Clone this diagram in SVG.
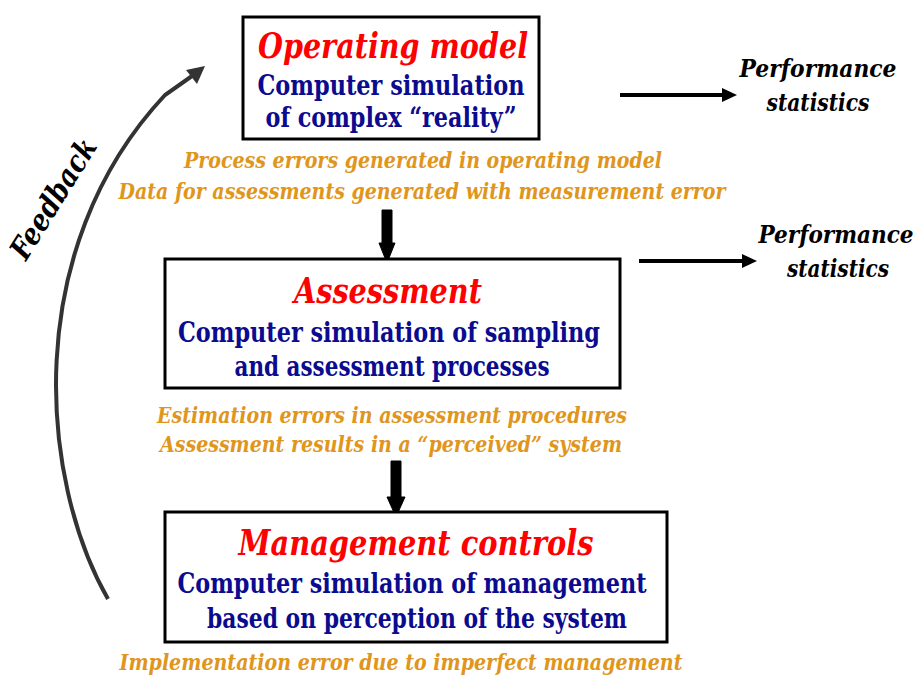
<svg xmlns="http://www.w3.org/2000/svg" width="921" height="678" viewBox="0 0 921 678">
<style>
text{font-family:'DejaVu Serif Condensed','DejaVu Serif','Liberation Serif',serif;font-weight:bold;text-anchor:middle}
.box{fill:#fff;stroke:#000;stroke-width:3}
.title{font-style:italic;font-size:36px;fill:#ff0000}
.body{font-size:27px;fill:#0b0b8f}
.note{font-style:italic;font-size:23px;fill:#e0961c}
.perf{font-style:italic;font-size:25px;fill:#000}
.fb{font-style:italic;font-size:30px;fill:#000}
.harrow{stroke:#000;stroke-width:4;fill:none}
.blk{fill:#000;stroke:#000;stroke-width:1}
</style>
<g id="connectors">
<path class="harrow" d="M620,95 L724,95"/>
<path d="M722,88 L737,95 L722,102 Z" fill="#000"/>
<path class="harrow" d="M639,261 L744,261"/>
<path d="M742,254 L757,261 L742,268 Z" fill="#000"/>
<polygon class="blk" points="382,210 392,210 392,243 395,243 387,263 379,243 382,243"/>
<polygon class="blk" points="391,461 401,461 401,497 405,497 396,517 387,497 391,497"/>
<path d="M108,599 C40,480 20,250 165,95 L192,76" fill="none" stroke="#333" stroke-width="4"/>
<path d="M186,70 L205,66 L197,84 Z" fill="#333"/>
<text class="fb" transform="translate(62,204) rotate(-58)" textLength="136" lengthAdjust="spacingAndGlyphs">Feedback</text>
</g>
<g id="operating-model">
<rect class="box" x="243" y="17" width="296" height="122"/>
<text class="title" x="393" y="58" textLength="270" lengthAdjust="spacingAndGlyphs">Operating model</text>
<text class="body" x="391" y="95" textLength="267" lengthAdjust="spacingAndGlyphs">Computer simulation</text>
<text class="body" x="391" y="127" textLength="251" lengthAdjust="spacingAndGlyphs">of complex “reality”</text>
<text class="note" x="423" y="168" textLength="478" lengthAdjust="spacingAndGlyphs">Process errors generated in operating model</text>
<text class="note" x="422" y="199" textLength="607" lengthAdjust="spacingAndGlyphs">Data for assessments generated with measurement error</text>
</g>
<g id="assessment">
<rect class="box" x="165" y="259" width="455" height="129"/>
<text class="title" x="388" y="303" textLength="188" lengthAdjust="spacingAndGlyphs">Assessment</text>
<text class="body" x="389" y="342" textLength="422" lengthAdjust="spacingAndGlyphs">Computer simulation of sampling</text>
<text class="body" x="392" y="376" textLength="315" lengthAdjust="spacingAndGlyphs">and assessment processes</text>
<text class="note" x="392" y="423" textLength="470" lengthAdjust="spacingAndGlyphs">Estimation errors in assessment procedures</text>
<text class="note" x="391" y="452" textLength="462" lengthAdjust="spacingAndGlyphs">Assessment results in a “perceived” system</text>
</g>
<g id="management-controls">
<rect class="box" x="165" y="512" width="502" height="130"/>
<text class="title" x="416" y="555" textLength="355" lengthAdjust="spacingAndGlyphs">Management controls</text>
<text class="body" x="412" y="593" textLength="469" lengthAdjust="spacingAndGlyphs">Computer simulation of management</text>
<text class="body" x="417" y="628" textLength="420" lengthAdjust="spacingAndGlyphs">based on perception of the system</text>
<text class="note" x="401" y="670" textLength="563" lengthAdjust="spacingAndGlyphs">Implementation error due to imperfect management</text>
</g>
<g id="performance-1">
<text class="perf" x="818" y="77" textLength="157" lengthAdjust="spacingAndGlyphs">Performance</text>
<text class="perf" x="818" y="111" textLength="103" lengthAdjust="spacingAndGlyphs">statistics</text>
</g>
<g id="performance-2">
<text class="perf" x="836" y="243" textLength="155" lengthAdjust="spacingAndGlyphs">Performance</text>
<text class="perf" x="838" y="277" textLength="102" lengthAdjust="spacingAndGlyphs">statistics</text>
</g>
</svg>
